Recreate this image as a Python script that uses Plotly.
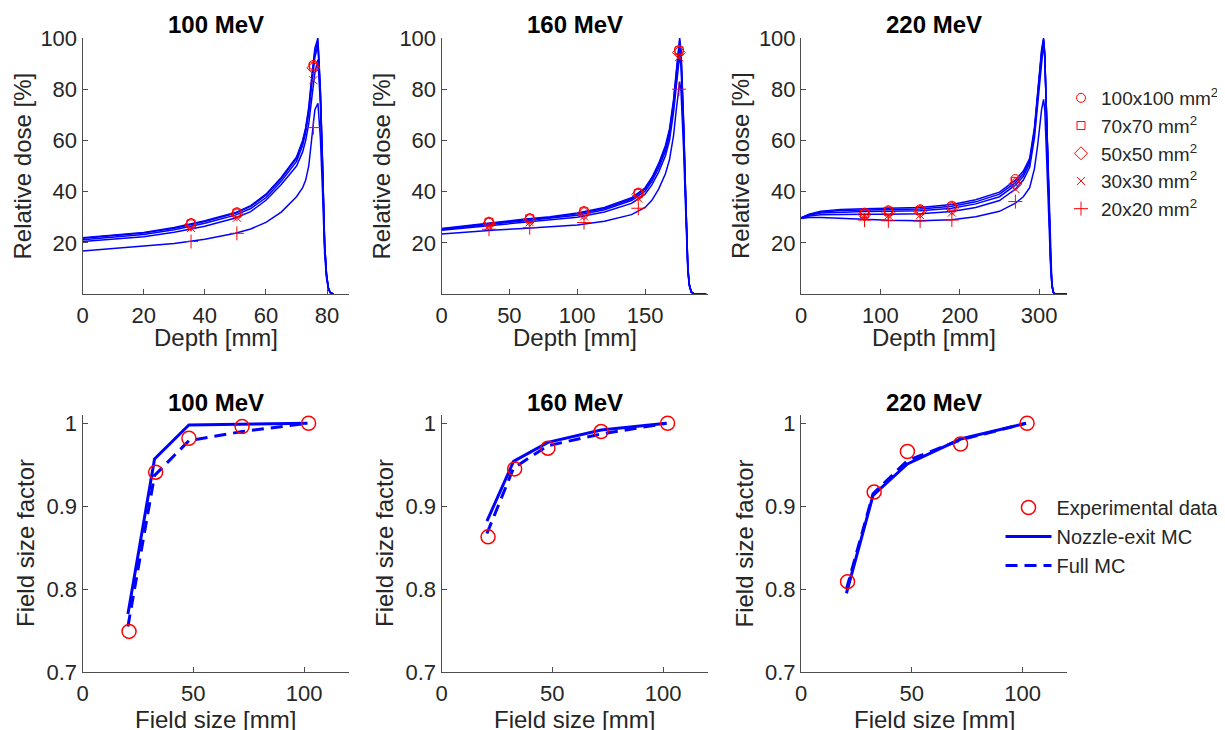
import plotly.graph_objects as go
from plotly.subplots import make_subplots

# ---------------- depth-dose curves (MC) ----------------
ENERGIES = ["100 MeV", "160 MeV", "220 MeV"]
FIELDS = ["100x100", "70x70", "50x50", "30x30", "20x20"]

d100 = [0, 10, 20, 30, 40, 50, 55, 60, 65, 70, 72, 73, 74, 75, 76, 77, 77.8, 78.5, 79.2, 79.8, 80.4, 81, 82]
dose100 = [
    [22.0, 22.9, 24.0, 26.0, 28.6, 31.8, 34.5, 39.0, 45.5, 53.5, 60.0, 65.0, 73.0, 85.0, 96.0, 100.0, 80.0, 52.0, 20.0, 8.0, 2.5, 0.6, 0.0],
    [21.8, 22.7, 23.8, 25.7, 28.3, 31.5, 34.2, 38.6, 45.0, 53.0, 59.5, 64.5, 72.0, 84.0, 94.5, 98.5, 79.0, 51.0, 19.5, 7.8, 2.4, 0.6, 0.0],
    [21.2, 22.1, 23.2, 25.1, 27.6, 30.8, 33.4, 37.6, 44.0, 51.8, 58.0, 63.0, 70.5, 82.0, 92.5, 97.0, 78.0, 50.5, 19.0, 7.6, 2.4, 0.6, 0.0],
    [20.5, 21.4, 22.4, 24.1, 26.5, 29.7, 32.2, 36.6, 42.8, 50.0, 55.5, 60.0, 66.5, 76.5, 86.5, 91.5, 74.0, 48.0, 18.5, 7.4, 2.3, 0.6, 0.0],
    [16.8, 17.7, 18.6, 19.7, 21.4, 23.7, 25.4, 28.0, 32.0, 38.0, 41.5, 44.5, 50.0, 60.0, 72.0, 74.5, 61.0, 40.0, 15.5, 6.2, 2.0, 0.5, 0.0],
]

d160 = [0, 20, 40, 60, 80, 100, 120, 140, 150, 155, 160, 165, 168, 171, 173, 174.5, 175.5, 176.5, 177.5,
        178.5, 179.5, 180.5, 181.5, 182.5, 184, 186, 195]
dose160 = [
    [25.6, 26.9, 28.1, 29.2, 30.2, 31.6, 33.8, 37.6, 41.5, 45.5, 51.0, 58.0, 64.5, 76.0, 87.0, 95.5, 100.0, 95.0, 83.0, 66.0, 46.0, 25.0, 11.0, 4.0, 0.8, 0.1, 0.0],
    [25.4, 26.6, 27.8, 28.9, 29.9, 31.3, 33.4, 37.1, 41.0, 44.8, 50.2, 57.0, 63.5, 75.0, 86.0, 94.5, 99.0, 94.0, 82.0, 65.0, 45.5, 24.5, 10.8, 4.0, 0.8, 0.1, 0.0],
    [25.2, 26.3, 27.4, 28.5, 29.5, 30.8, 32.9, 36.5, 40.2, 44.0, 49.2, 55.8, 62.0, 73.5, 84.0, 92.5, 97.0, 92.0, 80.0, 63.5, 44.5, 24.0, 10.5, 3.9, 0.8, 0.1, 0.0],
    [24.9, 25.9, 26.9, 27.9, 28.8, 30.0, 32.0, 35.4, 39.0, 42.6, 47.6, 54.0, 60.0, 71.0, 81.0, 89.0, 93.5, 88.5, 77.0, 61.0, 43.0, 23.0, 10.0, 3.7, 0.8, 0.1, 0.0],
    [23.4, 24.3, 25.0, 25.6, 26.2, 27.0, 28.4, 31.0, 33.8, 36.6, 41.0, 47.0, 52.5, 62.0, 72.0, 80.0, 83.0, 79.0, 69.0, 55.0, 38.5, 21.0, 9.0, 3.3, 0.7, 0.1, 0.0],
]

d220 = [0, 10, 25, 50, 80, 110, 150, 190, 220, 250, 270, 280, 288, 294, 298, 301, 303, 305.5, 307, 308.5,
        310, 311.5, 313, 314.5, 316, 317.5, 319, 335]
dose220 = [
    [29.8, 31.2, 32.3, 33.0, 33.3, 33.5, 33.8, 35.0, 36.8, 39.8, 44.5, 48.0, 53.0, 65.0, 78.0, 89.0, 95.5, 100.0, 94.0, 78.0, 60.0, 44.0, 27.0, 12.0, 4.0, 1.0, 0.0, 0.0],
    [29.8, 31.0, 32.0, 32.6, 32.8, 33.0, 33.2, 34.3, 36.0, 39.0, 43.5, 47.0, 52.0, 64.0, 77.0, 88.0, 94.5, 99.5, 93.5, 77.5, 59.5, 43.5, 27.0, 12.0, 4.0, 1.0, 0.0, 0.0],
    [29.7, 30.8, 31.6, 32.0, 32.2, 32.3, 32.5, 33.5, 35.2, 38.0, 42.5, 46.0, 51.0, 63.0, 76.0, 87.0, 94.0, 99.0, 93.0, 77.0, 59.0, 43.0, 26.5, 11.8, 3.9, 1.0, 0.0, 0.0],
    [29.6, 30.5, 31.0, 31.2, 31.2, 31.2, 31.3, 32.2, 33.8, 36.5, 41.0, 44.5, 49.5, 61.0, 74.0, 85.0, 92.5, 98.0, 92.0, 76.0, 58.0, 42.5, 26.0, 11.5, 3.8, 1.0, 0.0, 0.0],
    [29.5, 29.9, 29.9, 29.5, 29.1, 28.8, 28.6, 29.0, 30.2, 32.3, 35.5, 38.0, 41.5, 49.0, 58.0, 66.5, 72.0, 76.0, 72.0, 60.0, 46.0, 34.0, 21.0, 9.5, 3.2, 0.8, 0.0, 0.0],
]

# ---------------- measured depth-dose points ----------------
m100_x = [35.5, 50.5, 75.5]
meas100 = [
    [27.7, 31.9, 89.5],
    [27.4, 31.6, 89.0],
    [27.1, 31.2, 88.3],
    [25.8, 29.8, 83.5],
    [20.5, 23.7, 65.0],
]
m160_x = [35, 65, 105, 145, 175]
meas160 = [
    [28.2, 29.6, 32.4, 39.6, 95.3],
    [28.0, 29.4, 32.1, 39.3, 95.0],
    [27.6, 29.0, 31.6, 38.9, 94.3],
    [26.5, 28.0, 30.3, 37.3, 92.5],
    [25.3, 25.9, 27.9, 33.5, 80.0],
]
m220_x = [80, 110, 150, 190, 270]
meas220 = [
    [31.8, 32.7, 33.1, 34.5, 44.9],
    [31.4, 32.3, 32.7, 34.0, 44.0],
    [31.0, 31.9, 32.3, 33.5, 43.0],
    [30.2, 30.6, 30.8, 31.8, 41.0],
    [28.9, 28.6, 28.5, 28.9, 36.1],
]

# ---------------- field size factors ----------------
fs_exp = [21, 33, 48, 72, 102]
fs_mc = [20.5, 32.5, 48, 72, 101.5]
fsf_exp = [
    [0.749, 0.941, 0.982, 0.996, 1.0],
    [0.863, 0.945, 0.970, 0.990, 1.0],
    [0.809, 0.917, 0.966, 0.975, 1.0],
]
fsf_nozzle = [
    [0.770, 0.957, 0.998, 0.999, 1.0],
    [0.882, 0.954, 0.977, 0.992, 1.0],
    [0.795, 0.913, 0.951, 0.981, 1.0],
]
fsf_full = [
    [0.755, 0.937, 0.979, 0.990, 1.0],
    [0.867, 0.946, 0.973, 0.987, 1.0],
    [0.800, 0.915, 0.955, 0.980, 1.0],
]

BLUE = "#0000ff"
RED = "#ff0000"
AX = "#262626"
FONT = "Liberation Sans, Arial, Helvetica, sans-serif"
SYMBOLS = ["circle-open", "square-open", "diamond-open", "x-thin-open", "cross-thin-open"]
SIZES = [9, 8, 10, 8, 10]

fig = make_subplots(rows=2, cols=3)

depth_sets = [(d100, dose100, m100_x, meas100), (d160, dose160, m160_x, meas160), (d220, dose220, m220_x, meas220)]
for c, (d, doses, mx, meas) in enumerate(depth_sets, start=1):
    for curve in doses:
        fig.add_trace(go.Scatter(x=d, y=curve, mode="lines", line=dict(color=BLUE, width=1.5),
                                 showlegend=False, hoverinfo="skip"), row=1, col=c)
    for i, pts in enumerate(meas):
        fig.add_trace(go.Scatter(x=mx, y=pts, mode="markers", name=f"{FIELDS[i]} mm<sup>2</sup>",
                                 marker=dict(symbol=SYMBOLS[i], size=SIZES[i], color=RED,
                                             line=dict(color=RED, width=1)),
                                 showlegend=(c == 3), legend="legend"), row=1, col=c)

for c in range(3):
    fig.add_trace(go.Scatter(x=fs_mc, y=fsf_nozzle[c], mode="lines", name="Nozzle-exit MC",
                             line=dict(color=BLUE, width=3), showlegend=(c == 2), legend="legend2",
                             legendrank=2), row=2, col=c + 1)
    fig.add_trace(go.Scatter(x=fs_mc, y=fsf_full[c], mode="lines", name="Full MC",
                             line=dict(color=BLUE, width=3, dash="12px,7px"), showlegend=(c == 2),
                             legend="legend2", legendrank=3), row=2, col=c + 1)
    fig.add_trace(go.Scatter(x=fs_exp, y=fsf_exp[c], mode="markers", name="Experimental data",
                             marker=dict(symbol="circle-open", size=14, color=RED, line=dict(color=RED, width=1.5)),
                             showlegend=(c == 2), legend="legend2", legendrank=1), row=2, col=c + 1)

# ---------------- layout (positions in window pixels, page body is offset by 8px) ----------------
OFF = 8
W, H = 1225 - OFF, 730 - OFF
cols_px = [(82.5, 348.5), (441.5, 707.5), (801, 1067)]
top_px = (38, 294)
bot_px = (415, 672)


def px_x(p):
    return (p - OFF) / W


def px_y(p):
    return 1 - (p - OFF) / H


axis_common = dict(showline=True, linecolor="#4d4d4d", linewidth=1, ticks="inside", ticklen=5,
                   tickcolor="#4d4d4d", showgrid=False, zeroline=False, automargin=False,
                   tickfont=dict(family=FONT, size=22, color=AX))

xranges = [[0, 87], [0, 196], [0, 335]]
xticks = [[0, 20, 40, 60, 80], [0, 50, 100, 150], [0, 100, 200, 300]]
for c in range(3):
    xd = [px_x(cols_px[c][0]), px_x(cols_px[c][1])]
    fig.update_xaxes(domain=xd, range=xranges[c], tickvals=xticks[c], ticklabelstandoff=2,
                     **axis_common, row=1, col=c + 1)
    fig.update_yaxes(domain=[px_y(top_px[1]), px_y(top_px[0])], range=[0, 100], tickvals=[20, 40, 60, 80, 100],
                     **axis_common, row=1, col=c + 1)
    fig.update_xaxes(domain=xd, range=[0, 120], tickvals=[0, 50, 100], ticklabelstandoff=2,
                     **axis_common, row=2, col=c + 1)
    fig.update_yaxes(domain=[px_y(bot_px[1]), px_y(bot_px[0])], range=[0.7, 1.01], tickvals=[0.7, 0.8, 0.9, 1.0],
                     ticktext=["0.7", "0.8", "0.9", "1"], **axis_common, row=2, col=c + 1)

label_font = dict(family=FONT, size=24, color=AX)
title_font = dict(family=FONT, size=24, color="black")
annotations = []
for c in range(3):
    xc = px_x((cols_px[c][0] + cols_px[c][1]) / 2)
    ax0 = cols_px[c][0]
    annotations += [
        dict(text=f"<b>{ENERGIES[c]}</b>", x=xc, y=px_y(25), font=title_font),
        dict(text=f"<b>{ENERGIES[c]}</b>", x=xc, y=px_y(402.5), font=title_font),
        dict(text="Depth [mm]", x=xc, y=px_y(337), font=label_font),
        dict(text="Field size [mm]", x=xc, y=px_y(719), font=label_font),
        dict(text="Relative dose [%]", x=px_x(ax0 - 61), y=px_y(166), textangle=-90, font=label_font),
        dict(text="Field size factor", x=px_x(ax0 - 57), y=px_y(543.5), textangle=-90, font=label_font),
    ]
for a in annotations:
    a.update(xref="paper", yref="paper", xanchor="center", yanchor="middle", showarrow=False)

fig.update_layout(
    width=W, height=H, margin=dict(l=0, r=0, t=0, b=0, autoexpand=False),
    plot_bgcolor="white", paper_bgcolor="white",
    font=dict(family=FONT, size=20, color=AX),
    annotations=annotations,
    legend=dict(x=px_x(1061), y=px_y(79), xanchor="left", yanchor="top", bgcolor="rgba(0,0,0,0)",
                font=dict(family=FONT, size=19, color=AX), tracegroupgap=0),
    legend2=dict(x=px_x(1000.5), y=px_y(488), xanchor="left", yanchor="top", bgcolor="rgba(0,0,0,0)",
                 font=dict(family=FONT, size=20, color=AX), itemwidth=46),
)

fig.write_html("out.html")
